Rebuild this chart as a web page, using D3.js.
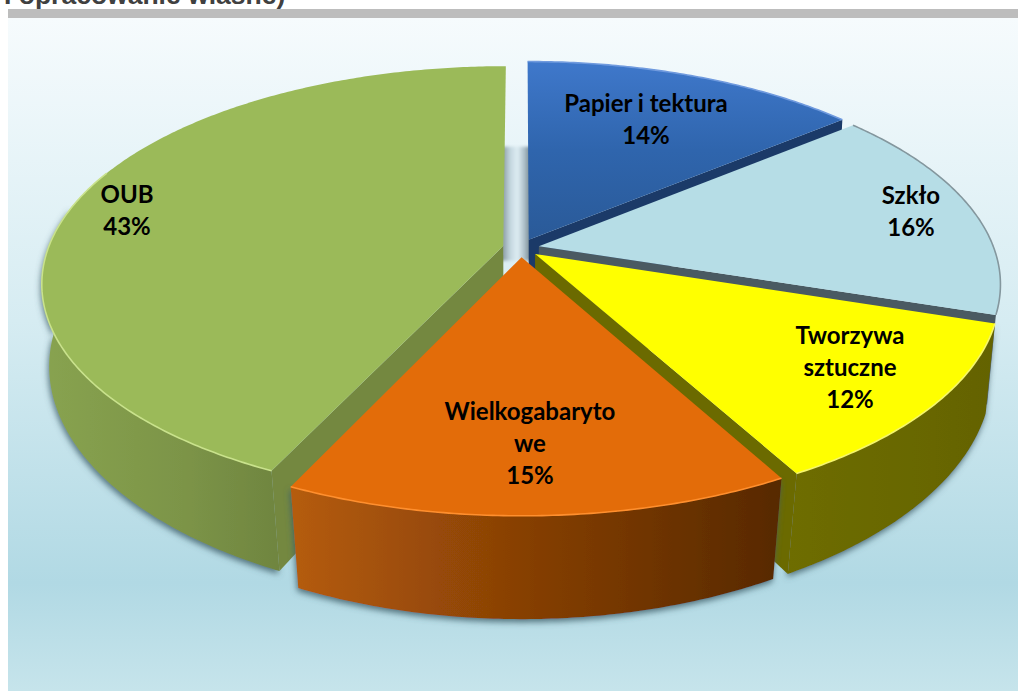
<!DOCTYPE html>
<html>
<head>
<meta charset="utf-8">
<script src="https://cdn.jsdelivr.net/npm/d3@7"></script>
<style>
    body { margin: 0; background: #fff; overflow: hidden; }
    svg { display: block; }
    .label { font-family: Lato, "Noto Sans", sans-serif; font-weight: 700; font-size: 24px; fill: #000; text-anchor: middle; }
    .source { font-family: "Liberation Sans", sans-serif; font-weight: 700; font-size: 26.5px; fill: #404040; }
</style>
</head>
<body>
<div id="chart"></div>
<script>
const categories = ["Papier i tektura", "Szkło", "Tworzywa sztuczne", "Wielkogabarytowe", "OUB"];
const shares = [14, 16, 12, 15, 43];
const labelLines = [["Papier i tektura"], ["Szkło"], ["Tworzywa", "sztuczne"], ["Wielkogabaryto", "we"], ["OUB"]];

const topColors = ["url(#topBlue)", "#b6dde6", "#ffff00", "#e36c09", "#9bba59"];
const cutColors = ["#1b3a68", "#4a5a62", "#6b6a00", null, "#748840"];
const wallColors = [null, null, "url(#wallOlive)", "url(#wallOrange)", "url(#wallGreen)"];
const rimColors = ["#6f9ade", "#84979e", "#f5f56a", "#ff8f2e", "#c9e28c"];
const labelCenters = [[646, 120], [911, 212], [850, 368], [530, 444], [127, 211]];

const width = 1018, height = 691;
const cx = 521, cy = 248;
const radiusX = 455, radiusY = 211, depth = 85;
const perspective = 0.17, taperBack = 0.012, taperFront = 0.022;
const explode = 0.04, explodeDown = 1.1;
const lineHeight = 32;

const xScale = d3.scaleLinear().domain([-1, 1]).range([cx - radiusX, cx + radiusX]);
const yScale = d3.scaleLinear().domain([-1, 1]).range([cy - radiusY, cy + radiusY]);

// ground plane -> screen, z goes from 0 (top face) to 1 (bottom of the pie)
function project(X, Y, z) {
    let s = 1 / (1 - perspective * Y);
    let taper = taperBack + taperFront * Math.max(0, Y);
    return [xScale(X * s * (1 - taper * z)), yScale(Y * s) + depth * z * s];
}

const svg = d3.select("#chart").append("svg").attr("width", width).attr("height", height);
const defs = svg.append("defs");

function gradient(id, stops, vertical) {
    let g = defs.append("linearGradient").attr("id", id)
        .attr("x1", 0).attr("y1", 0)
        .attr("x2", vertical ? 0 : 1).attr("y2", vertical ? 1 : 0);
    stops.forEach(s => g.append("stop").attr("offset", s[0]).attr("stop-color", s[1]));
}

gradient("bg", [[0, "#f6fbfd"], [0.45, "#d6ecf2"], [0.84, "#b1d9e4"], [1, "#c6e4eb"]], true);
gradient("topBlue", [[0, "#3f78cb"], [0.5, "#2f65ad"], [1, "#2a5a98"]], true);
gradient("wallOrange", [[0, "#b55c0a"], [0.5, "#843e05"], [1, "#572902"]], false);
gradient("wallGreen", [[0, "#88a350"], [0.6, "#7c9447"], [1, "#6f8540"]], false);
gradient("wallOlive", [[0, "#6e6d00"], [1, "#646300"]], false);
gradient("gap", [[0, "#7f8f99"], [0.3, "#c3d6de"], [0.55, "#deedf3"], [0.8, "#a9bcc5"], [1, "#6f7f88"]], false);

defs.append("filter").attr("id", "floorShadow")
    .attr("x", "-10%").attr("y", "-10%").attr("width", "120%").attr("height", "125%")
    .append("feDropShadow").attr("dx", -1).attr("dy", 3).attr("stdDeviation", 3)
    .attr("flood-color", "#3f5f6b").attr("flood-opacity", 0.85);
defs.append("filter").attr("id", "soft").append("feGaussianBlur").attr("stdDeviation", 0.7);
defs.append("filter").attr("id", "softGap")
    .attr("x", "-30%").attr("y", "-30%").attr("width", "160%").attr("height", "160%")
    .append("feGaussianBlur").attr("stdDeviation", 1.5);

// header left over from the page above the chart
svg.append("text").attr("class", "source").attr("x", 4).attr("y", 4).text("I opracowanie własne)");
svg.append("rect").attr("x", 8).attr("y", 9).attr("width", width - 8).attr("height", 9).attr("fill", "#bdbdbd");
svg.append("rect").attr("x", 8).attr("y", 18).attr("width", width - 8).attr("height", height - 18).attr("fill", "url(#bg)");

const arcs = d3.pie().sort(null).value(d => d)(shares);
const line = d3.line();

function offsetOf(a) {
    let mid = (a.startAngle + a.endAngle) / 2;
    return [Math.sin(mid) * explode, -Math.cos(mid) * explode * explodeDown];
}

function rimPoint(a, t, z) {
    let o = offsetOf(a);
    return project(o[0] + Math.sin(t), o[1] - Math.cos(t), z);
}

function rim(a, t0, t1, z) {
    let n = Math.ceil(Math.abs(t1 - t0) / 0.01);
    return d3.range(n + 1).map(i => rimPoint(a, t0 + (t1 - t0) * i / n, z));
}

function apex(a, z) {
    let o = offsetOf(a);
    return project(o[0], o[1], z);
}

// soft shadowed slot between the OUB and paper slices
const gapLeft = apex(arcs[4], 0)[0], gapRight = apex(arcs[0], 0)[0];
svg.append("rect")
    .attr("x", gapLeft - 2)
    .attr("y", yScale(-0.48))
    .attr("width", gapRight - gapLeft + 4)
    .attr("height", yScale(0.06) - yScale(-0.48))
    .attr("fill", "url(#gap)")
    .attr("filter", "url(#softGap)");

// painter's order, back to front
[0, 1, 4, 2, 3].forEach(i => {
    let a = arcs[i];
    let g = svg.append("g");

    if (wallColors[i]) {
        // OUB shows its wall only up to the left edge of the pie
        let t0 = a.startAngle, t1 = i === 4 ? Math.PI * 1.56 : a.endAngle;
        let wall = rim(a, t0, t1, 0).concat(rim(a, t1, t0, 1));
        g.append("path").attr("d", line(wall) + "Z")
            .attr("fill", wallColors[i])
            .attr("filter", "url(#floorShadow)");
    }
    if (cutColors[i]) {
        // cut face that looks towards the viewer
        let t = i === 4 ? a.startAngle : a.endAngle;
        g.append("path")
            .attr("d", line([apex(a, 0), rimPoint(a, t, 0), rimPoint(a, t, 1), apex(a, 1)]) + "Z")
            .attr("fill", cutColors[i]);
    }
    let outer = rim(a, a.startAngle, a.endAngle, 0);
    g.append("path").attr("d", line([apex(a, 0)].concat(outer)) + "Z").attr("fill", topColors[i]);
    // only the part of the rim near the viewer catches the light on the big slice
    let lit = i === 4 ? rim(a, a.startAngle, Math.PI * 1.62, 0) : outer;
    g.append("path").attr("d", line(lit))
        .attr("fill", "none")
        .attr("stroke", rimColors[i])
        .attr("stroke-width", 1.6)
        .attr("filter", "url(#soft)");
});

labelLines.forEach((lines, i) => {
    let rows = lines.concat([shares[i] + "%"]);
    let first = labelCenters[i][1] - (rows.length - 1) * lineHeight / 2 + 8;
    rows.forEach((row, j) => {
        svg.append("text").attr("class", "label")
            .attr("x", labelCenters[i][0])
            .attr("y", first + j * lineHeight)
            .text(row);
    });
});
</script>
</body>
</html>
